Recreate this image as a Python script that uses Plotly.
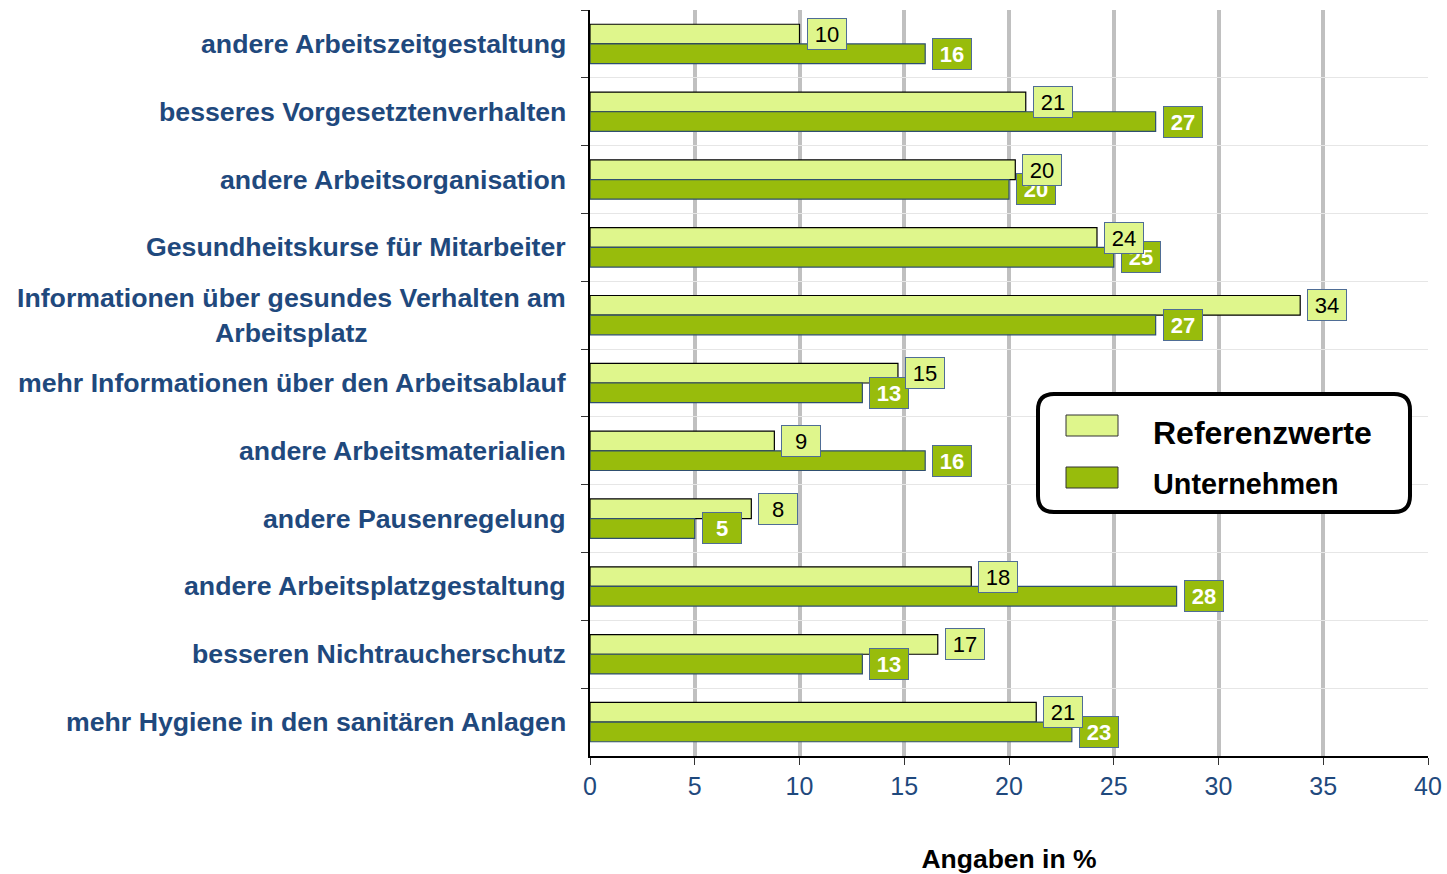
import plotly.graph_objects as go

categories = [
    "andere Arbeitszeitgestaltung",
    "besseres Vorgesetztenverhalten",
    "andere Arbeitsorganisation",
    "Gesundheitskurse für Mitarbeiter",
    "Informationen über gesundes Verhalten am<br>Arbeitsplatz",
    "mehr Informationen über den Arbeitsablauf",
    "andere Arbeitsmaterialien",
    "andere Pausenregelung",
    "andere Arbeitsplatzgestaltung",
    "besseren Nichtraucherschutz",
    "mehr Hygiene in den sanitären Anlagen",
]
referenzwerte = [10.0, 20.8, 20.3, 24.2, 33.9, 14.7, 8.8, 7.7, 18.2, 16.6, 21.3]
unternehmen = [16, 27, 20, 25, 27, 13, 16, 5, 28, 13, 23]
x_ticks = [0, 5, 10, 15, 20, 25, 30, 35, 40]

FONT = "Liberation Sans, Arial, sans-serif"
LIGHT = "#DFF68C"
DARK = "#98BC0C"
BLUE = "#1F497D"
BOXLINE = "#4F6D95"

W, H = 1447, 874
PL, PR, PT, PB = 590, 1428, 10, 756  # plot area in page pixels
L, R, T, B = PL, W - PR, PT, H - PB
PW, PH = PR - PL, PB - PT

def px(x):
    return (x - PL) / PW

def py(y):
    return (PB - y) / PH

fig = go.Figure()
fig.add_trace(go.Bar(
    name="Referenzwerte", y=categories, x=referenzwerte, orientation="h",
    marker=dict(color=LIGHT, line=dict(color="#000000", width=1.2)),
))
fig.add_trace(go.Bar(
    name="Unternehmen", y=categories, x=unternehmen, orientation="h",
    marker=dict(color=DARK, line=dict(color="#2F4F6F", width=1.2)),
))

annotations = []
for c in categories:
    annotations.append(dict(
        x=0, xref="paper", y=c, yref="y", xanchor="right", yanchor="middle",
        xshift=-22, text=f"<b>{c}</b>", showarrow=False, align="center",
        font=dict(family=FONT, size=26.7, color=BLUE),
    ))
for c, v in zip(categories, unternehmen):
    annotations.append(dict(
        x=v, y=c, xref="x", yref="y", xanchor="left", yanchor="middle",
        xshift=7, yshift=-9.8, text=f"<b>{v:.0f}</b>", showarrow=False,
        bgcolor=DARK, bordercolor=BOXLINE, borderwidth=1, borderpad=2,
        width=34, height=26, font=dict(family=FONT, size=22, color="white"),
    ))
for c, v in zip(categories, referenzwerte):
    annotations.append(dict(
        x=v, y=c, xref="x", yref="y", xanchor="left", yanchor="middle",
        xshift=7, yshift=9.8, text=f"{v:.0f}", showarrow=False,
        bgcolor=LIGHT, bordercolor=BOXLINE, borderwidth=1, borderpad=2,
        width=34, height=26, font=dict(family=FONT, size=22, color="black"),
    ))

x0, x1, y0, y1 = px(1038), px(1410), py(394), py(512)
rx, ry = 16 / PW, 16 / PH
path = (f"M{x0+rx},{y0} L{x1-rx},{y0} Q{x1},{y0} {x1},{y0-ry} "
        f"L{x1},{y1+ry} Q{x1},{y1} {x1-rx},{y1} L{x0+rx},{y1} "
        f"Q{x0},{y1} {x0},{y1+ry} L{x0},{y0-ry} Q{x0},{y0} {x0+rx},{y0} Z")
shapes = [dict(type="path", xref="paper", yref="paper", path=path,
               line=dict(color="black", width=4), fillcolor="white", layer="above")]
legend_items = [("Referenzwerte", LIGHT, 415, 436, 433, 32),
                ("Unternehmen", DARK, 467, 488, 484, 28.8)]
for name, col, ya, yb, yt, fs in legend_items:
    shapes.append(dict(type="rect", xref="paper", yref="paper",
                       x0=px(1066), x1=px(1118), y0=py(ya), y1=py(yb),
                       fillcolor=col, line=dict(color="#333333", width=1), layer="above"))
    annotations.append(dict(
        x=px(1151), y=py(yt), xref="paper", yref="paper",
        xanchor="left", yanchor="middle", text=f"<b>{name}</b>", showarrow=False,
        font=dict(family=FONT, size=fs, color="black"),
    ))

fig.update_layout(
    width=W, height=H, autosize=False,
    margin=dict(l=L, r=R, t=T, b=B, autoexpand=False),
    paper_bgcolor="white", plot_bgcolor="white",
    barmode="group", bargap=0.42, bargroupgap=0,
    showlegend=False,
    font=dict(family=FONT),
    annotations=annotations,
    shapes=shapes,
    xaxis=dict(
        range=[0, 40], tickvals=x_ticks, ticktext=[str(t) for t in x_ticks],
        automargin=False,
        showgrid=True, gridcolor="#C0C0C0", gridwidth=4, zeroline=False,
        showline=True, linecolor="black", linewidth=2,
        ticks="outside", ticklen=7, tickcolor="#333333",
        tickfont=dict(family=FONT, size=25, color=BLUE),
        title=dict(text="<b>Angaben in %</b>", standoff=52,
                   font=dict(family=FONT, size=26.5, color="black")),
    ),
    yaxis=dict(
        autorange="reversed", showticklabels=False, tickson="boundaries",
        automargin=False,
        showgrid=True, gridcolor="#E6E6E6", gridwidth=1,
        showline=True, linecolor="black", linewidth=2,
        ticks="outside", ticklen=7, tickcolor="#333333",
    ),
)

fig.write_html(
    "out.html",
    config={"displayModeBar": False, "responsive": False},
    post_script="document.body.style.margin='0';document.documentElement.style.overflow='hidden';",
)
